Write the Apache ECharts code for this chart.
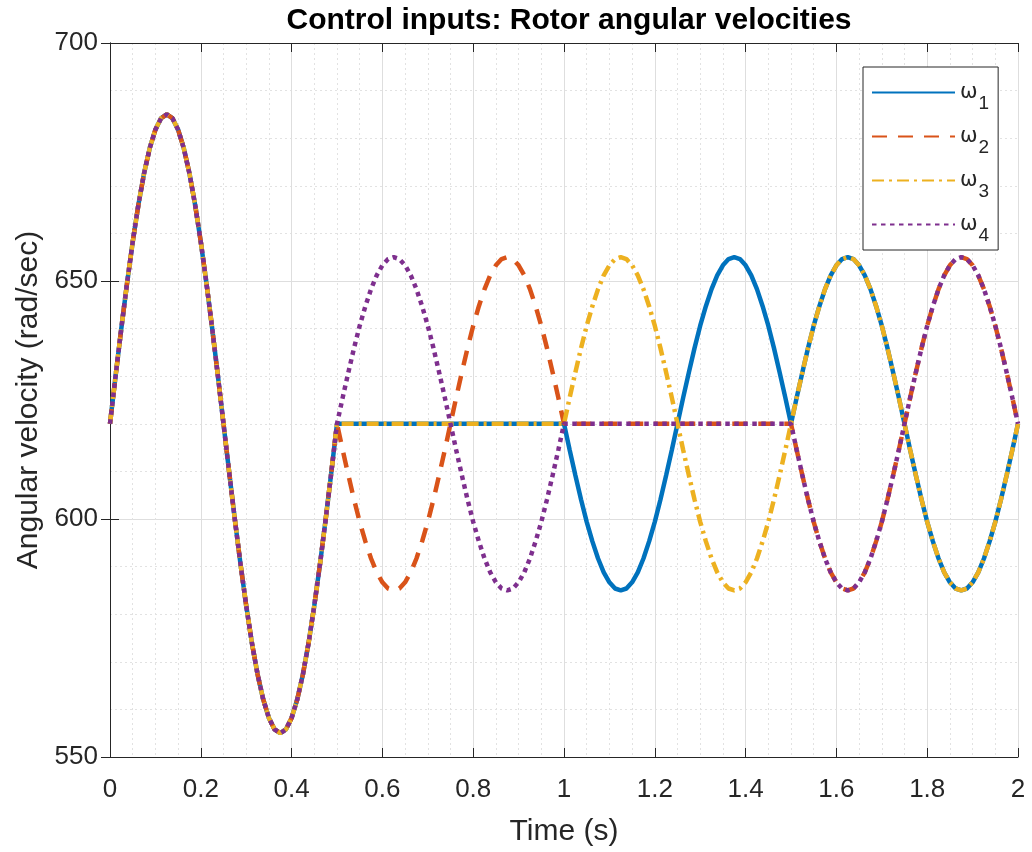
<!DOCTYPE html>
<html>
<head>
<meta charset="utf-8">
<script src="https://cdn.jsdelivr.net/npm/echarts@6/dist/echarts.min.js"></script>
<style>html,body{margin:0;padding:0;background:#fff}#c{width:1032px;height:852px}</style>
</head>
<body>
<div id="c"></div>
<script>
// Sample spacing of the readings (s)
const dt = 0.0125;
const seriesNames = ['ω1', 'ω2', 'ω3', 'ω4'];
const xTickLabels = ['0', '0.2', '0.4', '0.6', '0.8', '1', '1.2', '1.4', '1.6', '1.8', '2'];
const yTickLabels = ['550', '600', '650', '700'];

// Rotor angular velocities (rad/sec), read every 0.0125 s from 0 to 2 s
const omega1 = [
620,630.2,640.1,649.5,658.2,666.0,672.6,677.9,681.8,684.2,685,684.2,681.8,677.9,672.6,666.0,658.2,649.5,640.1,630.2,620,609.8,599.9,590.5,581.8,574.0,567.4,562.1,558.2,555.8,555,555.8,558.2,562.1,567.4,574.0,581.8,590.5,599.9,609.8,
620,620,620,620,620,620,620,620,620,620,620,620,620,620,620,620,620,620,620,620,620,620,620,620,620,620,620,620,620,620,620,620,620,620,620,620,620,620,620,620,
620,614.5,609.2,604.1,599.4,595.3,591.7,588.8,586.7,585.4,585,585.4,586.7,588.8,591.7,595.3,599.4,604.1,609.2,614.5,620,625.5,630.8,635.9,640.6,644.7,648.3,651.2,653.3,654.6,655,654.6,653.3,651.2,648.3,644.7,640.6,635.9,630.8,625.5,
620,625.5,630.8,635.9,640.6,644.7,648.3,651.2,653.3,654.6,655,654.6,653.3,651.2,648.3,644.7,640.6,635.9,630.8,625.5,620,614.5,609.2,604.1,599.4,595.3,591.7,588.8,586.7,585.4,585,585.4,586.7,588.8,591.7,595.3,599.4,604.1,609.2,614.5,
620];
const omega2 = [
620,630.2,640.1,649.5,658.2,666.0,672.6,677.9,681.8,684.2,685,684.2,681.8,677.9,672.6,666.0,658.2,649.5,640.1,630.2,620,609.8,599.9,590.5,581.8,574.0,567.4,562.1,558.2,555.8,555,555.8,558.2,562.1,567.4,574.0,581.8,590.5,599.9,609.8,
620,614.5,609.2,604.1,599.4,595.3,591.7,588.8,586.7,585.4,585,585.4,586.7,588.8,591.7,595.3,599.4,604.1,609.2,614.5,620,625.5,630.8,635.9,640.6,644.7,648.3,651.2,653.3,654.6,655,654.6,653.3,651.2,648.3,644.7,640.6,635.9,630.8,625.5,
620,620,620,620,620,620,620,620,620,620,620,620,620,620,620,620,620,620,620,620,620,620,620,620,620,620,620,620,620,620,620,620,620,620,620,620,620,620,620,620,
620,614.5,609.2,604.1,599.4,595.3,591.7,588.8,586.7,585.4,585,585.4,586.7,588.8,591.7,595.3,599.4,604.1,609.2,614.5,620,625.5,630.8,635.9,640.6,644.7,648.3,651.2,653.3,654.6,655,654.6,653.3,651.2,648.3,644.7,640.6,635.9,630.8,625.5,
620];
const omega3 = [
620,630.2,640.1,649.5,658.2,666.0,672.6,677.9,681.8,684.2,685,684.2,681.8,677.9,672.6,666.0,658.2,649.5,640.1,630.2,620,609.8,599.9,590.5,581.8,574.0,567.4,562.1,558.2,555.8,555,555.8,558.2,562.1,567.4,574.0,581.8,590.5,599.9,609.8,
620,620,620,620,620,620,620,620,620,620,620,620,620,620,620,620,620,620,620,620,620,620,620,620,620,620,620,620,620,620,620,620,620,620,620,620,620,620,620,620,
620,625.5,630.8,635.9,640.6,644.7,648.3,651.2,653.3,654.6,655,654.6,653.3,651.2,648.3,644.7,640.6,635.9,630.8,625.5,620,614.5,609.2,604.1,599.4,595.3,591.7,588.8,586.7,585.4,585,585.4,586.7,588.8,591.7,595.3,599.4,604.1,609.2,614.5,
620,625.5,630.8,635.9,640.6,644.7,648.3,651.2,653.3,654.6,655,654.6,653.3,651.2,648.3,644.7,640.6,635.9,630.8,625.5,620,614.5,609.2,604.1,599.4,595.3,591.7,588.8,586.7,585.4,585,585.4,586.7,588.8,591.7,595.3,599.4,604.1,609.2,614.5,
620];
const omega4 = [
620,630.2,640.1,649.5,658.2,666.0,672.6,677.9,681.8,684.2,685,684.2,681.8,677.9,672.6,666.0,658.2,649.5,640.1,630.2,620,609.8,599.9,590.5,581.8,574.0,567.4,562.1,558.2,555.8,555,555.8,558.2,562.1,567.4,574.0,581.8,590.5,599.9,609.8,
620,625.5,630.8,635.9,640.6,644.7,648.3,651.2,653.3,654.6,655,654.6,653.3,651.2,648.3,644.7,640.6,635.9,630.8,625.5,620,614.5,609.2,604.1,599.4,595.3,591.7,588.8,586.7,585.4,585,585.4,586.7,588.8,591.7,595.3,599.4,604.1,609.2,614.5,
620,620,620,620,620,620,620,620,620,620,620,620,620,620,620,620,620,620,620,620,620,620,620,620,620,620,620,620,620,620,620,620,620,620,620,620,620,620,620,620,
620,614.5,609.2,604.1,599.4,595.3,591.7,588.8,586.7,585.4,585,585.4,586.7,588.8,591.7,595.3,599.4,604.1,609.2,614.5,620,625.5,630.8,635.9,640.6,644.7,648.3,651.2,653.3,654.6,655,654.6,653.3,651.2,648.3,644.7,640.6,635.9,630.8,625.5,
620];

const allOmega = [omega1, omega2, omega3, omega4];
const colors = ['#0072BD', '#D95319', '#EDB120', '#7E2F8E'];
const dashes = ['solid', [15, 11], [12, 5, 3, 5], [4.5, 4.5]];

const FONT = 'Liberation Sans, Arial, Helvetica, sans-serif';
const chart = echarts.init(document.getElementById('c'), null, {renderer: 'canvas'});

const tickInside = {show: true, inside: true, length: 9, lineStyle: {color: '#262626', width: 1}};
const axLine = {show: true, lineStyle: {color: '#262626', width: 1}};

const option = {
  animation: false,
  backgroundColor: '#fff',
  title: {
    text: 'Control inputs: Rotor angular velocities',
    left: 564, top: 1, textAlign: 'center',
    textStyle: {fontFamily: FONT, fontSize: 30, fontWeight: 'bold', color: '#000'}
  },
  grid: {left: 110, right: 14, top: 43, bottom: 92, show: false},
  legend: {
    orient: 'vertical', left: 863, top: 67,
    data: seriesNames,
    backgroundColor: '#fff', borderColor: '#262626', borderWidth: 1,
    padding: [5, 9, 5, 8],
    itemWidth: 83, itemHeight: 14, itemGap: 3,
    itemStyle: {opacity: 0},
    formatter: name => '{w|ω}{s|' + name.slice(1) + '}',
    textStyle: {
      color: '#262626',
      rich: {
        w: {fontFamily: 'DejaVu Sans', fontSize: 21, lineHeight: 22, color: '#262626'},
        s: {fontFamily: FONT, fontSize: 19, lineHeight: 19, padding: [22, 0, 0, 1], color: '#262626'}
      }
    }
  },
  xAxis: [{
    type: 'value', min: 0, max: 2, interval: 0.2,
    name: 'Time (s)', nameLocation: 'middle', nameGap: 60,
    nameTextStyle: {fontFamily: FONT, fontSize: 30, color: '#262626'},
    axisLine: axLine, axisTick: tickInside,
    axisLabel: {fontFamily: FONT, fontSize: 26, color: '#262626', margin: 20,
      formatter: v => xTickLabels[Math.round(v / 0.2)]},
    splitLine: {show: true, lineStyle: {color: '#dedede', width: 1}},
    minorTick: {show: false, splitNumber: 4},
    minorSplitLine: {show: true, lineStyle: {color: '#e2e2e2', width: 1, type: [2, 3]}}
  }, {
    type: 'value', min: 0, max: 2, interval: 0.2, position: 'top',
    axisLine: axLine, axisTick: tickInside, axisLabel: {show: false},
    splitLine: {show: false}
  }],
  yAxis: [{
    type: 'value', min: 550, max: 700, interval: 50,
    name: 'Angular velocity (rad/sec)', nameLocation: 'middle', nameGap: 63,
    nameTextStyle: {fontFamily: FONT, fontSize: 30, color: '#262626'},
    axisLine: axLine, axisTick: tickInside,
    axisLabel: {fontFamily: FONT, fontSize: 26, color: '#262626', margin: 12,
      padding: [0, 0, 8, 0],
      formatter: v => yTickLabels[Math.round((v - 550) / 50)]},
    splitLine: {show: true, lineStyle: {color: '#dedede', width: 1}},
    minorTick: {show: false, splitNumber: 5},
    minorSplitLine: {show: true, lineStyle: {color: '#e2e2e2', width: 1, type: [2, 3]}}
  }, {
    type: 'value', min: 550, max: 700, interval: 50, position: 'right',
    axisLine: axLine, axisTick: tickInside, axisLabel: {show: false},
    splitLine: {show: false}
  }],
  series: allOmega.map((arr, k) => ({
    name: seriesNames[k],
    type: 'line',
    symbol: 'none', showSymbol: false,
    xAxisIndex: 0, yAxisIndex: 0,
    z: 2 + k,
    color: colors[k],
    lineStyle: {color: colors[k], width: 4.5, type: dashes[k], cap: 'butt'},
    data: arr.map((v, i) => [i * dt, v])
  }))
};
chart.setOption(option);
</script>
</body>
</html>
